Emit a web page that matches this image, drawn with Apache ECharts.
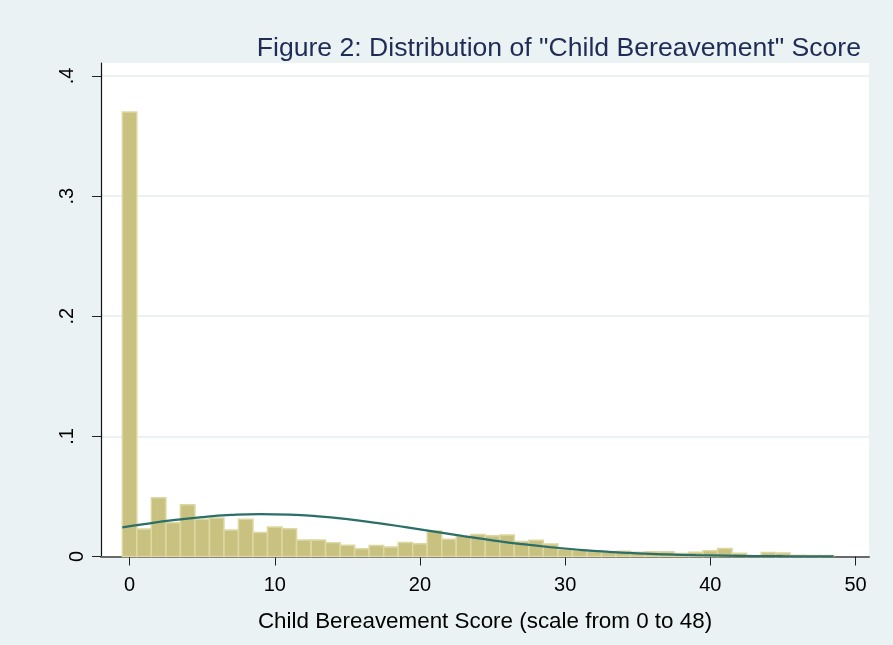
<!DOCTYPE html>
<html>
<head>
<meta charset="utf-8">
<style>
  html, body { margin: 0; padding: 0; background: #EAF2F3; }
  #chart { width: 893px; height: 645px; }
</style>
<script src="https://cdn.jsdelivr.net/npm/echarts@6/dist/echarts.min.js"></script>
</head>
<body>
<div id="chart"></div>
<script>
// Child bereavement score (integer scale 0–48), one bin per score
const scores = [0, 1, 2, 3, 4, 5, 6, 7, 8, 9, 10, 11, 12, 13, 14, 15, 16, 17, 18, 19,
  20, 21, 22, 23, 24, 25, 26, 27, 28, 29, 30, 31, 32, 33, 34, 35, 36, 37, 38, 39,
  40, 41, 42, 43, 44, 45, 46, 47, 48];

// Histogram density per bin (bin width = 1)
const density = [
  0.370, 0.0228, 0.049, 0.028, 0.043, 0.031, 0.032, 0.022, 0.031, 0.020,
  0.0245, 0.0232, 0.0137, 0.0137, 0.0115, 0.0094, 0.0064, 0.0092, 0.0080, 0.0117,
  0.0107, 0.0213, 0.0143, 0.0169, 0.0184, 0.0172, 0.0180, 0.0125, 0.0136, 0.0105,
  0.0060, 0.0055, 0.0042, 0.0040, 0.0044, 0.0036, 0.0040, 0.0040, 0.0025, 0.0036,
  0.0047, 0.0067, 0.0028, 0.0008, 0.0033, 0.0030, 0.0010, 0.0008, 0.0008
];

// Overlaid normal density curve
const normX = [-0.5, 1, 3, 5, 7, 9, 11, 13, 15, 17, 19, 21, 23, 25, 27, 29, 31, 33,
  35, 37, 39, 41, 43, 45, 47, 48.5];
const normY = [0.02424, 0.02695, 0.03022, 0.03284, 0.03458, 0.03529, 0.03490, 0.03346,
  0.03108, 0.02799, 0.02442, 0.02065, 0.01693, 0.01345, 0.01035, 0.00772, 0.00558,
  0.00391, 0.00266, 0.00175, 0.00112, 0.00069, 0.00041, 0.00024, 0.00014, 0.00009];

// Axis ticks
const xTicks = [0, 10, 20, 30, 40, 50];
const yTicks = [0, 0.1, 0.2, 0.3, 0.4];

const titleText = 'Figure 2: Distribution of "Child Bereavement" Score';
const xTitle = 'Child Bereavement Score (scale from 0 to 48)';

const chart = echarts.init(document.getElementById('chart'));

const barData = scores.map((s, i) => [s, density[i]]);
const curveData = normX.map((x, i) => [x, normY[i]]);

const fontFamily = '"Liberation Sans", Arial, sans-serif';
const yLabelStyle = { fontFamily, fontSize: 20, color: '#000' };

chart.setOption({
  backgroundColor: '#EAF2F3',
  animation: false,
  title: {
    text: titleText,
    right: 27,
    top: 30,
    textStyle: { fontFamily, fontSize: 26.6, fontWeight: 'normal', color: '#1F2D56' }
  },
  grid: {
    left: 101, right: 24, top: 63, bottom: 88.5,
    show: true, backgroundColor: '#ffffff', borderWidth: 0
  },
  xAxis: {
    type: 'value',
    min: -1.97,
    max: 50.93,
    name: xTitle,
    nameLocation: 'middle',
    nameGap: 54,
    nameTextStyle: { fontFamily, fontSize: 22.4, color: '#000' },
    axisLine: { show: true, onZero: false, lineStyle: { color: '#6a6a6a', width: 2 } },
    axisTick: { show: true, length: 9, customValues: xTicks, lineStyle: { color: '#222', width: 1 } },
    axisLabel: { customValues: xTicks, margin: 19, fontFamily, fontSize: 20, color: '#000' },
    splitLine: { show: false }
  },
  yAxis: {
    type: 'value',
    min: 0,
    max: 0.4108,
    interval: 0.1,
    axisLine: { show: true, onZero: false, lineStyle: { color: '#111', width: 1.2 } },
    axisTick: { show: true, length: 9, customValues: yTicks, lineStyle: { color: '#222', width: 1 } },
    axisLabel: {
      customValues: yTicks,
      rotate: 90,
      margin: 14,
      fontFamily, fontSize: 20, color: '#000',
      // zero sits closer to the axis than the decimal labels
      formatter: v => (v === 0 ? '{z|0}' : '{d|' + String(Math.round(v * 10) / 10).replace(/^0/, '') + '}'),
      rich: {
        z: Object.assign({ padding: [0, 0, 0, 0] }, yLabelStyle),
        d: Object.assign({ padding: [0, 0, 10, 0] }, yLabelStyle)
      }
    },
    splitLine: { show: true, lineStyle: { color: '#EAF2F3', width: 2 } }
  },
  series: [
    {
      type: 'custom',
      data: barData,
      z: 2,
      renderItem: function (params, api) {
        const x = api.value(0);
        const y = api.value(1);
        const p0 = api.coord([x - 0.5, y]);
        const p1 = api.coord([x + 0.5, 0]);
        return {
          type: 'rect',
          shape: { x: p0[0], y: p0[1], width: p1[0] - p0[0], height: p1[1] - p0[1] },
          style: { fill: '#C9C180', stroke: '#DDD8A2', lineWidth: 1.5 }
        };
      }
    },
    {
      type: 'line',
      data: curveData,
      smooth: true,
      showSymbol: false,
      z: 3,
      lineStyle: { color: '#2B6F68', width: 2.2 }
    }
  ]
});
</script>
</body>
</html>
